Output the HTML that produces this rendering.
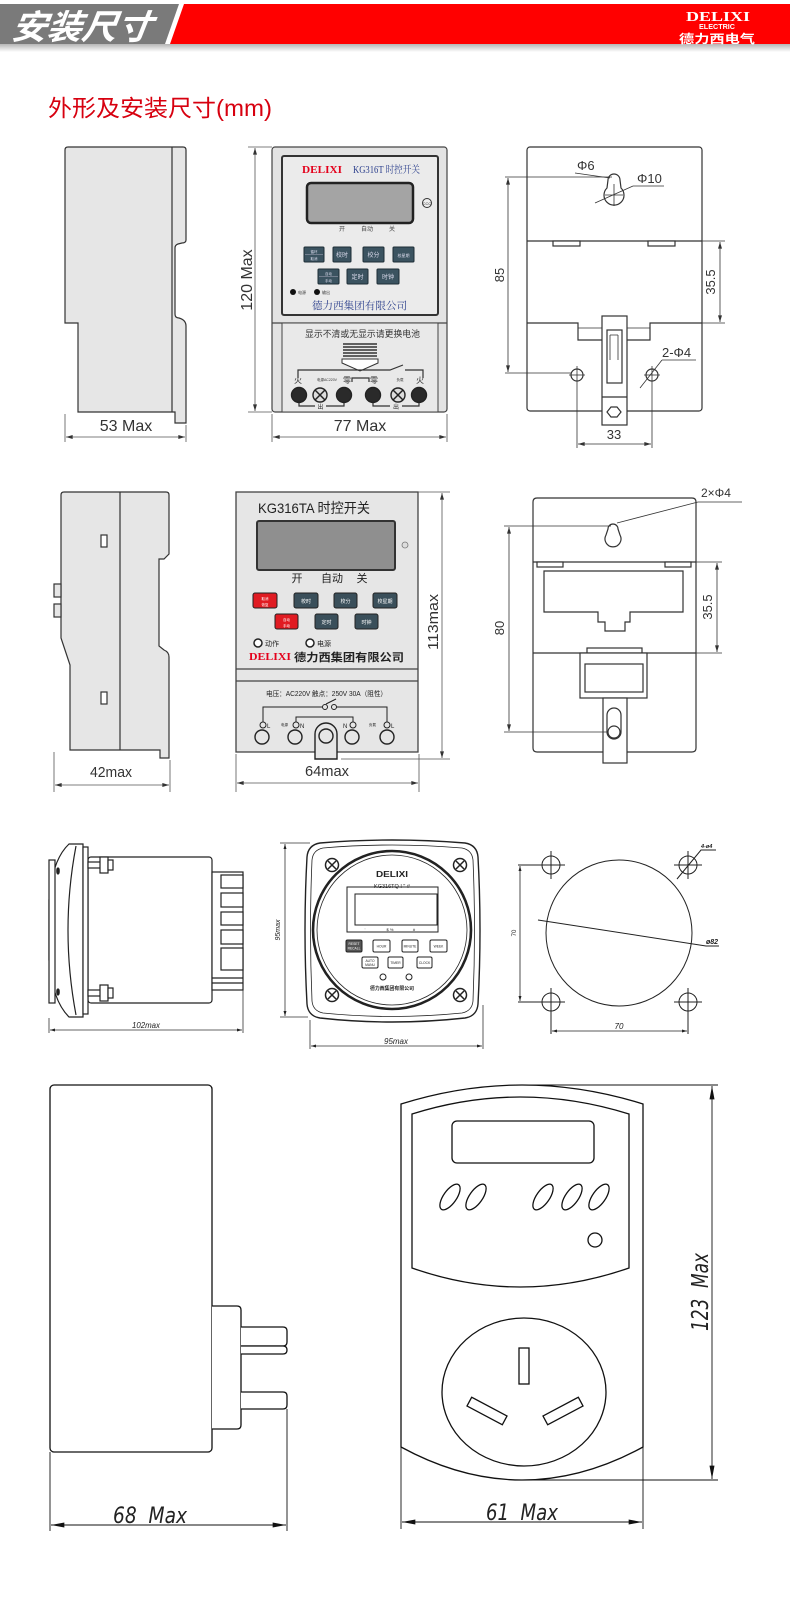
<!DOCTYPE html>
<html><head><meta charset="utf-8"><style>
html,body{margin:0;padding:0;background:#fff;}
svg{display:block;}
text{font-family:"Liberation Sans","Noto Sans CJK SC",sans-serif;}
.ser{font-family:"Liberation Serif","Noto Serif CJK SC",serif;}
.big{font-family:"DejaVu Sans","Liberation Sans",sans-serif;font-weight:200;font-style:italic;white-space:pre;}
</style></head><body>
<svg width="790" height="1617" viewBox="0 0 790 1617" xmlns="http://www.w3.org/2000/svg">
<defs>
<marker id="a" viewBox="0 0 10 6" refX="10" refY="3" markerWidth="7" markerHeight="4" orient="auto-start-reverse" markerUnits="userSpaceOnUse"><path d="M0,0 L10,3 L0,6 Z" fill="#333"/></marker>
<marker id="s" viewBox="0 0 10 6" refX="10" refY="3" markerWidth="5" markerHeight="3" orient="auto-start-reverse" markerUnits="userSpaceOnUse"><path d="M0,0 L10,3 L0,6 Z" fill="#222"/></marker>
<marker id="b" viewBox="0 0 16 6" refX="16" refY="3" markerWidth="15" markerHeight="5" orient="auto-start-reverse" markerUnits="userSpaceOnUse"><path d="M0,0 L16,3 L0,6 Z" fill="#111"/></marker>
<linearGradient id="sh" x1="0" y1="0" x2="0" y2="1"><stop offset="0" stop-color="#b5b5b5"/><stop offset="1" stop-color="#ffffff"/></linearGradient>
</defs>

<!-- HEADER -->
<rect x="0" y="44" width="790" height="8" fill="url(#sh)"/>
<polygon points="0,4 179,4 165,44 0,44" fill="#7a7a7a"/>
<polygon points="184,4 790,4 790,44 170,44" fill="#ff0000"/>
<text x="12" y="39" font-size="34" font-weight="bold" fill="#fff" font-style="italic" transform="skewX(-8) translate(4,0)" textLength="140" lengthAdjust="spacingAndGlyphs">安装尺寸</text>
<text x="718" y="21" font-size="14" font-weight="bold" fill="#fff" text-anchor="middle" class="ser" textLength="64" lengthAdjust="spacingAndGlyphs">DELIXI</text>
<text x="717" y="29" font-size="7" font-weight="bold" fill="#fff" text-anchor="middle" textLength="36" lengthAdjust="spacingAndGlyphs">ELECTRIC</text>
<text x="717" y="43" font-size="12" font-weight="bold" fill="#fff" text-anchor="middle" textLength="76" lengthAdjust="spacingAndGlyphs">德力西电气</text>

<text x="48" y="116" font-size="23" fill="#d7000f" textLength="224" lengthAdjust="spacingAndGlyphs">外形及安装尺寸(mm)</text>

<!-- ROW 1 : side view -->
<g stroke="#333" stroke-width="1.2" fill="#e6e6e6">
<path d="M68,147 H183 Q186,147 186,150 V240 Q186,243 182,243 L178,244 Q175,245 175,248 V314 Q175,318 179,318 Q186,320 186,326 V423 H175 V412 H78 V323 H65 V150 Q65,147 68,147 Z"/>
<line x1="172" y1="147" x2="172" y2="412"/>
</g>
<g stroke="#555" stroke-width="0.8" fill="none">
<line x1="65" y1="414" x2="65" y2="442"/><line x1="186" y1="425" x2="186" y2="442"/>
<line x1="66" y1="437" x2="185" y2="437" marker-start="url(#a)" marker-end="url(#a)"/>
</g>
<text x="126" y="431" font-size="16" fill="#333" text-anchor="middle">53 Max</text>

<!-- ROW 1 : front view -->
<rect x="272" y="147" width="175" height="265" rx="3" fill="#e3e3e3" stroke="#444" stroke-width="1.2"/>
<rect x="282" y="156" width="156" height="159" rx="2" fill="#ebebeb" stroke="#333" stroke-width="2"/>
<line x1="272" y1="323" x2="447" y2="323" stroke="#444" stroke-width="1.2"/>
<rect x="282" y="323" width="156" height="89" fill="#e9e9e9" stroke="#444" stroke-width="1"/>
<text x="302" y="173" font-size="11" font-weight="bold" fill="#e4001b" class="ser" textLength="40" lengthAdjust="spacingAndGlyphs">DELIXI</text>
<text x="353" y="173" font-size="10" fill="#2b3f8c" class="ser" textLength="67" lengthAdjust="spacingAndGlyphs">KG316T 时控开关</text>
<rect x="307" y="183" width="106" height="40" rx="4" fill="#a4a4a4" stroke="#222" stroke-width="2.5"/>
<circle cx="427" cy="203" r="4.5" fill="#eee" stroke="#333" stroke-width="1"/>
<text x="427" y="205" font-size="4" fill="#333" text-anchor="middle">CCC</text>
<g font-size="6" fill="#444" text-anchor="middle"><text x="342" y="231">开</text><text x="367" y="231">自动</text><text x="392" y="231">关</text></g>
<g fill="#3b5360" stroke="#1e2e36" stroke-width="1">
<rect x="304" y="247" width="20" height="15" rx="1"/><rect x="333" y="247" width="18" height="15" rx="1"/><rect x="363" y="247" width="21" height="15" rx="1"/><rect x="393" y="247" width="21" height="15" rx="1"/>
<rect x="318" y="269" width="21" height="15" rx="1"/><rect x="347" y="269" width="21" height="15" rx="1"/><rect x="377" y="269" width="22" height="15" rx="1"/>
</g>
<g font-size="6" fill="#dde" text-anchor="middle"><text x="342" y="257">校时</text><text x="373.5" y="257">校分</text><text x="403.5" y="257" font-size="4">校星期</text><text x="357.5" y="279">定时</text><text x="388" y="279">时钟</text>
<text x="314" y="253" font-size="3.5">循环</text><text x="314" y="260" font-size="3.5">取消</text><text x="328.5" y="275" font-size="3.5">自动</text><text x="328.5" y="282" font-size="3.5">手动</text></g>
<line x1="305" y1="254.5" x2="323" y2="254.5" stroke="#aab" stroke-width="0.6"/><line x1="319" y1="276.5" x2="338" y2="276.5" stroke="#aab" stroke-width="0.6"/>
<circle cx="293" cy="292" r="3" fill="#111"/><circle cx="317" cy="292" r="3" fill="#111"/>
<g font-size="4" fill="#333"><text x="298" y="294">电源</text><text x="322" y="294">输出</text></g>
<text x="312" y="309" font-size="10.5" fill="#2b3f8c" class="ser" textLength="95" lengthAdjust="spacingAndGlyphs">德力西集团有限公司</text>
<text x="305" y="337" font-size="9" fill="#333" textLength="115" lengthAdjust="spacingAndGlyphs">显示不清或无显示请更换电池</text>
<g stroke="#333" stroke-width="1.6"><line x1="343" y1="344" x2="377" y2="344"/><line x1="343" y1="347" x2="377" y2="347"/><line x1="343" y1="350" x2="377" y2="350"/><line x1="343" y1="353" x2="377" y2="353"/><line x1="343" y1="356" x2="377" y2="356"/></g>
<path d="M342,359 H378 V363 L360,371 L342,363 Z" fill="#fff" stroke="#333" stroke-width="1"/>
<g stroke="#333" stroke-width="1.2" fill="none">
<path d="M298,378 V370 H390 L403,365"/><path d="M405,370 H423 V378"/>
<path d="M352,382 V378 H369 V382"/>
<path d="M299,402 V406 H315 M326,406 H344 V402"/><path d="M373,402 V406 H390 M402,406 H419 V402"/>
</g>
<g font-size="8" fill="#333" text-anchor="middle"><text x="298" y="383">火</text><text x="347" y="383">零</text><text x="374" y="383">零</text><text x="420" y="383">火</text>
<text x="320.5" y="409" font-size="6">出</text><text x="396" y="409" font-size="6">出</text>
<text x="327" y="381" font-size="3.5">电源AC220V</text><text x="400" y="381" font-size="3.5">负载</text></g>
<g stroke="#222" stroke-width="1.4">
<circle cx="299" cy="395" r="7.5" fill="#2a2a2a"/><circle cx="344" cy="395" r="7.5" fill="#2a2a2a"/><circle cx="373" cy="395" r="7.5" fill="#2a2a2a"/><circle cx="419" cy="395" r="7.5" fill="#2a2a2a"/>
<circle cx="320" cy="395" r="7" fill="#ddd"/><circle cx="398" cy="395" r="7" fill="#ddd"/>
<path d="M315,390 L325,400 M325,390 L315,400 M393,390 L403,400 M403,390 L393,400" stroke-width="1.5"/>
</g>
<g stroke="#555" stroke-width="0.8" fill="none">
<line x1="248" y1="147" x2="272" y2="147"/><line x1="248" y1="412" x2="272" y2="412"/>
<line x1="255" y1="148" x2="255" y2="411" marker-start="url(#a)" marker-end="url(#a)"/>
<line x1="272" y1="414" x2="272" y2="442"/><line x1="447" y1="414" x2="447" y2="442"/>
<line x1="273" y1="437" x2="446" y2="437" marker-start="url(#a)" marker-end="url(#a)"/>
</g>
<text transform="translate(246,280) rotate(-90)" font-size="16" fill="#333" text-anchor="middle" dy="6">120 Max</text>
<text x="360" y="431" font-size="16" fill="#333" text-anchor="middle">77 Max</text>

<!-- ROW 1 : back view -->
<g stroke="#333" stroke-width="1.2" fill="#fff">
<rect x="527" y="147" width="175" height="264" rx="3"/>
<line x1="527" y1="241" x2="702" y2="241"/>
<rect x="553" y="241" width="27" height="5"/><rect x="648" y="241" width="27" height="5"/>
<path d="M527,323 H578 V340 H602 M627,340 H650 V323 H702" fill="none"/>
<path d="M578,328 H602 M627,328 H650" fill="none" stroke-width="0.8"/>
<rect x="602" y="316" width="25" height="109" fill="#fff"/>
<rect x="607" y="330" width="15" height="53" fill="#fff"/>
<path d="M610,335 V360 M618,335 V360 M610,335 H618" fill="none" stroke-width="0.8"/>
<path d="M602,397 H627" fill="none"/>
<path d="M607,412 L611,407 H617 L621,412 L617,417 H611 Z" fill="#fff"/>
<path d="M608,180 A6,6 0 1 1 620,180 L621,188 A10,10 0 1 1 607,188 Z" fill="#fff"/>
<circle cx="577" cy="375" r="6"/><circle cx="652" cy="375" r="6"/>
</g>
<g stroke="#333" stroke-width="0.8" fill="none">
<line x1="614" y1="184" x2="614" y2="206"/><line x1="605" y1="195" x2="623" y2="195"/>
<line x1="575" y1="173" x2="610" y2="178"/>
<line x1="595" y1="203" x2="633" y2="186"/><line x1="633" y1="186" x2="664" y2="186"/>
<line x1="505" y1="177" x2="612" y2="177"/><line x1="505" y1="373" x2="571" y2="373"/>
<line x1="508" y1="178" x2="508" y2="372" marker-start="url(#a)" marker-end="url(#a)"/>
<line x1="702" y1="241" x2="725" y2="241"/><line x1="702" y1="323" x2="725" y2="323"/>
<line x1="720" y1="242" x2="720" y2="322" marker-start="url(#a)" marker-end="url(#a)"/>
<line x1="577" y1="366" x2="577" y2="448"/><line x1="652" y1="366" x2="652" y2="448"/>
<line x1="569" y1="375" x2="585" y2="375"/><line x1="644" y1="375" x2="660" y2="375"/>
<line x1="640" y1="388" x2="662" y2="360"/><line x1="662" y1="360" x2="696" y2="360"/>
<line x1="578" y1="444" x2="651" y2="444" marker-start="url(#a)" marker-end="url(#a)"/>
</g>
<g font-size="13" fill="#333"><text x="577" y="170">Φ6</text><text x="637" y="183">Φ10</text><text x="662" y="357">2-Φ4</text>
<text x="614" y="439" text-anchor="middle">33</text></g>
<text transform="translate(500,275) rotate(-90)" font-size="13" fill="#333" text-anchor="middle" dy="4">85</text>
<text transform="translate(711,282) rotate(-90)" font-size="13" fill="#333" text-anchor="middle" dy="4">35.5</text>

<!-- ROW 2 : side view -->
<g stroke="#333" stroke-width="1.2" fill="#e6e6e6">
<path d="M64,492 H166 Q169,492 169,495 V554 L164,559 H159 V646 L164,650 Q169,652 169,657 V758 H160 V750 H70 V665 L61,638 V495 Q61,492 64,492 Z"/>
<line x1="120" y1="492" x2="120" y2="750"/>
<rect x="54" y="584" width="7" height="13"/><rect x="54" y="604" width="7" height="13"/>
<rect x="101" y="535" width="6" height="12" fill="#fff"/><rect x="101" y="692" width="6" height="12" fill="#fff"/>
</g>
<g stroke="#555" stroke-width="0.8" fill="none">
<line x1="54" y1="752" x2="54" y2="792"/><line x1="170" y1="760" x2="170" y2="792"/>
<line x1="55" y1="785" x2="169" y2="785" marker-start="url(#a)" marker-end="url(#a)"/>
</g>
<text x="111" y="777" font-size="15" fill="#333" text-anchor="middle" textLength="42" lengthAdjust="spacingAndGlyphs">42max</text>

<!-- ROW 2 : front view -->
<rect x="236" y="492" width="182" height="260" fill="#e6e6e6" stroke="#444" stroke-width="1.3"/>
<line x1="236" y1="669" x2="418" y2="669" stroke="#444" stroke-width="1.2"/>
<line x1="236" y1="681" x2="418" y2="681" stroke="#444" stroke-width="1.2"/>
<text x="258" y="513" font-size="14" fill="#222" textLength="112" lengthAdjust="spacingAndGlyphs">KG316TA 时控开关</text>
<rect x="257" y="521" width="138" height="49" rx="2" fill="#8f8f8f" stroke="#333" stroke-width="2"/>
<circle cx="405" cy="545" r="3" fill="#ddd" stroke="#777" stroke-width="0.8"/>
<g font-size="11" fill="#222" text-anchor="middle"><text x="297" y="582">开</text><text x="332" y="582">自动</text><text x="362" y="582">关</text></g>
<g stroke="#222" stroke-width="1">
<rect x="253" y="593" width="24" height="15" rx="2" fill="#e01b22"/><rect x="275" y="614" width="23" height="15" rx="2" fill="#e01b22"/>
<rect x="294" y="593" width="24" height="15" rx="2" fill="#3a4f5a"/><rect x="334" y="593" width="23" height="15" rx="2" fill="#3a4f5a"/><rect x="373" y="593" width="24" height="15" rx="2" fill="#3a4f5a"/>
<rect x="315" y="614" width="23" height="15" rx="2" fill="#3a4f5a"/><rect x="355" y="614" width="23" height="15" rx="2" fill="#3a4f5a"/>
</g>
<g font-size="5" fill="#fff" text-anchor="middle"><text x="306" y="603">校时</text><text x="345.5" y="603">校分</text><text x="385" y="603">校星期</text><text x="326.5" y="624">定时</text><text x="366.5" y="624">时钟</text>
<text x="265" y="600" font-size="3.5">取消</text><text x="265" y="606" font-size="3.5">恢复</text><text x="286.5" y="621" font-size="3.5">自动</text><text x="286.5" y="627" font-size="3.5">手动</text></g>
<circle cx="258" cy="643" r="4" fill="#fff" stroke="#222" stroke-width="1.5"/><circle cx="310" cy="643" r="4" fill="#fff" stroke="#222" stroke-width="1.5"/>
<g font-size="7" fill="#222"><text x="265" y="646">动作</text><text x="317" y="646">电源</text></g>
<text x="249" y="660" font-size="11" font-weight="bold" fill="#e4001b" class="ser" textLength="42" lengthAdjust="spacingAndGlyphs">DELIXI</text>
<text x="294" y="661" font-size="11" font-weight="bold" fill="#222" textLength="110" lengthAdjust="spacingAndGlyphs">德力西集团有限公司</text>
<text x="266" y="696" font-size="7" fill="#222" textLength="121" lengthAdjust="spacingAndGlyphs">电压：AC220V 触点：250V 30A（阻性）</text>
<g stroke="#222" stroke-width="1" fill="none">
<path d="M263,722 V707 H322"/><path d="M336,707 H387 V722"/>
<path d="M296,722 V717 H353 V722"/>
<circle cx="325" cy="707" r="2.5" fill="#e6e6e6"/><circle cx="334" cy="707" r="2.5" fill="#e6e6e6"/>
<line x1="326" y1="704" x2="336" y2="699"/>
<circle cx="263" cy="725" r="3"/><circle cx="296" cy="725" r="3"/><circle cx="353" cy="725" r="3"/><circle cx="387" cy="725" r="3"/>
</g>
<g stroke="#222" stroke-width="1.4" fill="#e6e6e6">
<circle cx="262" cy="737" r="7"/><circle cx="295" cy="737" r="7"/><circle cx="352" cy="737" r="7"/><circle cx="387" cy="737" r="7"/>
<path d="M315,759 V734 A11,11 0 0 1 337,734 V759 Z"/>
<circle cx="326" cy="736" r="7"/>
</g>
<g font-size="6" fill="#222"><text x="267" y="728">L</text><text x="300" y="728">N</text><text x="343" y="728">N</text><text x="391" y="728">L</text>
<text x="281" y="726" font-size="3.5">电源</text><text x="369" y="726" font-size="3.5">负载</text></g>
<g stroke="#555" stroke-width="0.8" fill="none">
<line x1="418" y1="492" x2="450" y2="492"/><line x1="341" y1="759" x2="450" y2="759"/>
<line x1="442" y1="493" x2="442" y2="758" marker-start="url(#a)" marker-end="url(#a)"/>
<line x1="236" y1="754" x2="236" y2="792"/><line x1="419" y1="754" x2="419" y2="792"/>
<line x1="237" y1="783" x2="418" y2="783" marker-start="url(#a)" marker-end="url(#a)"/>
</g>
<text transform="translate(433,622) rotate(-90)" font-size="15" fill="#333" text-anchor="middle" dy="5" textLength="56" lengthAdjust="spacingAndGlyphs">113max</text>
<text x="327" y="776" font-size="15" fill="#333" text-anchor="middle" textLength="44" lengthAdjust="spacingAndGlyphs">64max</text>

<!-- ROW 2 : back view -->
<g stroke="#333" stroke-width="1.2" fill="#fff">
<path d="M537,498 H692 Q696,498 696,502 V748 Q696,752 692,752 H537 Q533,752 533,748 V502 Q533,498 537,498 Z"/>
<line x1="533" y1="562" x2="696" y2="562"/>
<rect x="537" y="562" width="26" height="5"/><rect x="665" y="562" width="26" height="5"/>
<path d="M544,571 H683 V612 H630 V622 H625 V631 H605 V622 H598 V612 H544 Z"/>
<line x1="533" y1="653" x2="696" y2="653"/>
<rect x="587" y="648" width="55" height="5"/>
<rect x="580" y="653" width="67" height="45"/>
<rect x="585" y="664" width="58" height="28"/>
<rect x="603" y="698" width="24" height="65"/>
<rect x="607" y="708" width="14" height="31" rx="7"/>
<circle cx="614" cy="732" r="6"/>
<path d="M608,529 A5,5 0 1 1 618,529 L620,535 A8,8 0 1 1 606,535 Z"/>
</g>
<g stroke="#333" stroke-width="0.8" fill="none">
<line x1="504" y1="526" x2="611" y2="526"/><line x1="504" y1="732" x2="607" y2="732"/>
<line x1="509" y1="527" x2="509" y2="731" marker-start="url(#a)" marker-end="url(#a)"/>
<line x1="696" y1="562" x2="722" y2="562"/><line x1="696" y1="653" x2="722" y2="653"/>
<line x1="717" y1="563" x2="717" y2="652" marker-start="url(#a)" marker-end="url(#a)"/>
<line x1="617" y1="523" x2="698" y2="502"/><line x1="698" y1="502" x2="742" y2="502"/>
</g>
<text x="701" y="497" font-size="12" fill="#333">2×Φ4</text>
<text transform="translate(500,628) rotate(-90)" font-size="13" fill="#333" text-anchor="middle" dy="4">80</text>
<text transform="translate(708,607) rotate(-90)" font-size="13" fill="#333" text-anchor="middle" dy="4">35.5</text>

<!-- ROW 3 : side view -->
<g stroke="#222" stroke-width="1.2" fill="#fff">
<rect x="88" y="857" width="124" height="146" rx="3"/>
<path d="M69,844 H83 V1017 H69 Q52,1000 49,960 V900 Q52,860 69,844 Z"/>
<path d="M76,846 Q60,930 76,1015" fill="none"/>
<rect x="49" y="860" width="6" height="143"/>
<rect x="83" y="847" width="5" height="167"/>
<rect x="88" y="862" width="13" height="6"/><rect x="100" y="857" width="8" height="16"/><rect x="108" y="860" width="5" height="10"/>
<rect x="88" y="990" width="13" height="6"/><rect x="100" y="985" width="8" height="16"/><rect x="108" y="988" width="5" height="10"/>
<rect x="212" y="872" width="31" height="118"/>
<rect x="221" y="875" width="22" height="13"/><rect x="221" y="893" width="22" height="14"/><rect x="221" y="912" width="22" height="13"/><rect x="221" y="930" width="22" height="14"/><rect x="221" y="948" width="22" height="22"/>
<line x1="212" y1="978" x2="243" y2="978"/><line x1="212" y1="983" x2="243" y2="983"/>
<ellipse cx="58" cy="871" rx="1.2" ry="3" fill="#222"/><ellipse cx="58" cy="992" rx="1.2" ry="3" fill="#222"/>
</g>
<g stroke="#333" stroke-width="0.8" fill="none">
<line x1="49" y1="1018" x2="49" y2="1033"/><line x1="243" y1="990" x2="243" y2="1033"/>
<line x1="50" y1="1030" x2="242" y2="1030" marker-start="url(#s)" marker-end="url(#s)"/>
</g>
<text x="146" y="1028" font-size="8" fill="#222" text-anchor="middle" font-style="italic" textLength="28" lengthAdjust="spacingAndGlyphs">102max</text>

<!-- ROW 3 : front round -->
<g stroke="#222" fill="#fff">
<path d="M320,843 Q392,837 465,843 Q477,845 478,857 Q482,930 478,1004 Q477,1016 465,1018 Q392,1026 320,1018 Q308,1016 307,1004 Q303,930 307,857 Q308,845 320,843 Z" stroke-width="1.4"/>
<path d="M323,848 Q392,842 462,848 Q472,850 473,860 Q476,930 473,1001 Q472,1011 462,1013 Q392,1020 323,1013 Q313,1011 312,1001 Q309,930 312,860 Q313,850 323,848 Z" stroke-width="0.8"/>
<circle cx="392" cy="930" r="79" stroke-width="2.6"/>
<circle cx="392" cy="930" r="75" stroke-width="0.8"/>
<rect x="347" y="887" width="91" height="45" stroke-width="1"/>
<rect x="355" y="894" width="82" height="31" stroke-width="1"/>
</g>
<g stroke="#222" stroke-width="1.5" fill="#fff">
<circle cx="332" cy="865" r="6.5"/><circle cx="460" cy="865" r="6.5"/><circle cx="332" cy="995" r="6.5"/><circle cx="460" cy="995" r="6.5"/>
<path d="M328,861 L336,869 M336,861 L328,869 M456,861 L464,869 M464,861 L456,869 M328,991 L336,999 M336,991 L328,999 M456,991 L464,999 M464,991 L456,999" fill="none"/>
</g>
<text x="392" y="877" font-size="8" font-weight="bold" fill="#222" text-anchor="middle" textLength="32" lengthAdjust="spacingAndGlyphs">DELIXI</text>
<text x="392" y="888" font-size="5.5" fill="#222" text-anchor="middle">KG316TQ   !  "  #</text>
<g font-size="4" fill="#222" text-anchor="middle"><text x="365" y="931">'</text><text x="390" y="931">$ %</text><text x="414" y="931">#</text></g>
<g stroke="#222" stroke-width="1" fill="#fff">
<rect x="346" y="940" width="16" height="12" rx="1.5" fill="#555"/><rect x="373" y="940" width="17" height="12" rx="1.5"/><rect x="402" y="940" width="16" height="12" rx="1.5"/><rect x="430" y="940" width="17" height="12" rx="1.5"/>
<rect x="362" y="957" width="16" height="11" rx="1.5"/><rect x="388" y="957" width="15" height="11" rx="1.5"/><rect x="417" y="957" width="15" height="11" rx="1.5"/>
<circle cx="383" cy="977" r="3"/><circle cx="409" cy="977" r="3"/>
</g>
<g font-size="3.3" fill="#222" text-anchor="middle"><text x="381.5" y="947.5">HOUR</text><text x="410" y="947.5">MINUTE</text><text x="438.5" y="947.5">WEEK</text><text x="370" y="962">AUTO</text><text x="370" y="966">MANU</text><text x="395.5" y="964">TIMER</text><text x="424.5" y="964">CLOCK</text>
<text x="354" y="945" fill="#fff">RESET</text><text x="354" y="949.5" fill="#fff">RECALL</text></g>
<text x="392" y="990" font-size="5" font-weight="bold" fill="#222" text-anchor="middle" textLength="44" lengthAdjust="spacingAndGlyphs">德力西集团有限公司</text>
<g stroke="#333" stroke-width="0.8" fill="none">
<line x1="280" y1="843" x2="310" y2="843"/><line x1="280" y1="1017" x2="308" y2="1017"/>
<line x1="285" y1="844" x2="285" y2="1016" marker-start="url(#s)" marker-end="url(#s)"/>
<line x1="310" y1="1020" x2="310" y2="1049"/><line x1="483" y1="1005" x2="483" y2="1049"/>
<line x1="311" y1="1046" x2="482" y2="1046" marker-start="url(#s)" marker-end="url(#s)"/>
</g>
<text transform="translate(280,930) rotate(-90)" font-size="7" fill="#222" text-anchor="middle" font-style="italic">95max</text>
<text x="396" y="1044" font-size="8" fill="#222" text-anchor="middle" font-style="italic" textLength="24" lengthAdjust="spacingAndGlyphs">95max</text>

<!-- ROW 3 : cutout -->
<g stroke="#222" stroke-width="1" fill="none">
<circle cx="619" cy="933" r="73"/>
<circle cx="551" cy="865" r="9"/><circle cx="688" cy="865" r="9"/><circle cx="551" cy="1002" r="9"/><circle cx="688" cy="1002" r="9"/>
<path d="M551,851 V879 M537,865 H565 M688,851 V879 M674,865 H702 M551,988 V1034 M537,1002 H565 M688,988 V1034 M674,1002 H702"/>
<line x1="518" y1="865" x2="537" y2="865"/><line x1="518" y1="1002" x2="537" y2="1002"/>
<line x1="520" y1="866" x2="520" y2="1001" stroke-width="0.8" marker-start="url(#s)" marker-end="url(#s)"/>
<line x1="552" y1="1031" x2="687" y2="1031" stroke-width="0.8" marker-start="url(#s)" marker-end="url(#s)"/>
<path d="M538,920 L706,946 H719"/>
<path d="M677,879 L701,850 H716"/>
</g>
<text transform="translate(516,933) rotate(-90)" font-size="6" fill="#222" text-anchor="middle">70</text>
<text x="619" y="1029" font-size="8" fill="#222" text-anchor="middle" font-style="italic">70</text>
<text x="706" y="944" font-size="7" fill="#222" font-style="italic" font-weight="bold">ø82</text>
<text x="701" y="848" font-size="5.5" fill="#222" font-style="italic" font-weight="bold">4-ø4</text>

<!-- ROW 4 : side -->
<g stroke="#111" stroke-width="1.3" fill="#fff">
<rect x="50" y="1085" width="162" height="367" rx="4"/>
<path d="M212,1306 H237 Q241,1306 241,1310 V1425 Q241,1429 237,1429 H212"/>
<path d="M241,1327 H283 Q287,1327 287,1331 V1342 Q287,1346 283,1346 H241"/>
<path d="M241,1346 H283 Q287,1346 287,1350 Q287,1354 283,1354 H241"/>
<path d="M241,1392 H283 Q287,1392 287,1396 V1405 Q287,1409 283,1409 H241"/>
</g>
<g stroke="#111" stroke-width="0.9" fill="none">
<line x1="50" y1="1452" x2="50" y2="1531"/><line x1="287" y1="1409" x2="287" y2="1531"/>
<line x1="51" y1="1525" x2="286" y2="1525" marker-start="url(#b)" marker-end="url(#b)"/>
</g>
<text x="150" y="1523" font-size="22" fill="#222" text-anchor="middle" class="big" textLength="74" lengthAdjust="spacingAndGlyphs">68  Max</text>

<!-- ROW 4 : front -->
<g stroke="#111" stroke-width="1.3" fill="#fff">
<path d="M401,1104 Q522,1066 643,1104 V1447 Q522,1513 401,1447 Z"/>
<path d="M412,1114 Q520,1080 629,1114 V1268 Q520,1306 412,1268 Z"/>
<rect x="452" y="1121" width="142" height="42" rx="5"/>
<ellipse cx="450" cy="1197" rx="15" ry="6.5" transform="rotate(-55 450 1197)"/>
<ellipse cx="476" cy="1197" rx="15" ry="6.5" transform="rotate(-55 476 1197)"/>
<ellipse cx="543" cy="1197" rx="15" ry="6.5" transform="rotate(-55 543 1197)"/>
<ellipse cx="572" cy="1197" rx="15" ry="6.5" transform="rotate(-55 572 1197)"/>
<ellipse cx="599" cy="1197" rx="15" ry="6.5" transform="rotate(-55 599 1197)"/>
<circle cx="595" cy="1240" r="7"/>
<ellipse cx="524" cy="1392" rx="82" ry="74"/>
<rect x="519" y="1348" width="10" height="36"/>
<rect x="467" y="1406" width="40" height="10" transform="rotate(28 487 1411)"/>
<rect x="543" y="1406" width="40" height="10" transform="rotate(-28 563 1411)"/>
</g>
<g stroke="#111" stroke-width="0.9" fill="none">
<line x1="522" y1="1085" x2="718" y2="1085"/><line x1="522" y1="1480" x2="718" y2="1480"/>
<line x1="712" y1="1086" x2="712" y2="1479" marker-start="url(#b)" marker-end="url(#b)"/>
<line x1="401" y1="1447" x2="401" y2="1529"/><line x1="643" y1="1447" x2="643" y2="1529"/>
<line x1="402" y1="1522" x2="642" y2="1522" marker-start="url(#b)" marker-end="url(#b)"/>
</g>
<text transform="translate(700,1292) rotate(-90)" font-size="23" fill="#222" text-anchor="middle" class="big" dy="8" textLength="78" lengthAdjust="spacingAndGlyphs">123  Max</text>
<text x="522" y="1520" font-size="22" fill="#222" text-anchor="middle" class="big" textLength="72" lengthAdjust="spacingAndGlyphs">61  Max</text>
</svg>
</body></html>
